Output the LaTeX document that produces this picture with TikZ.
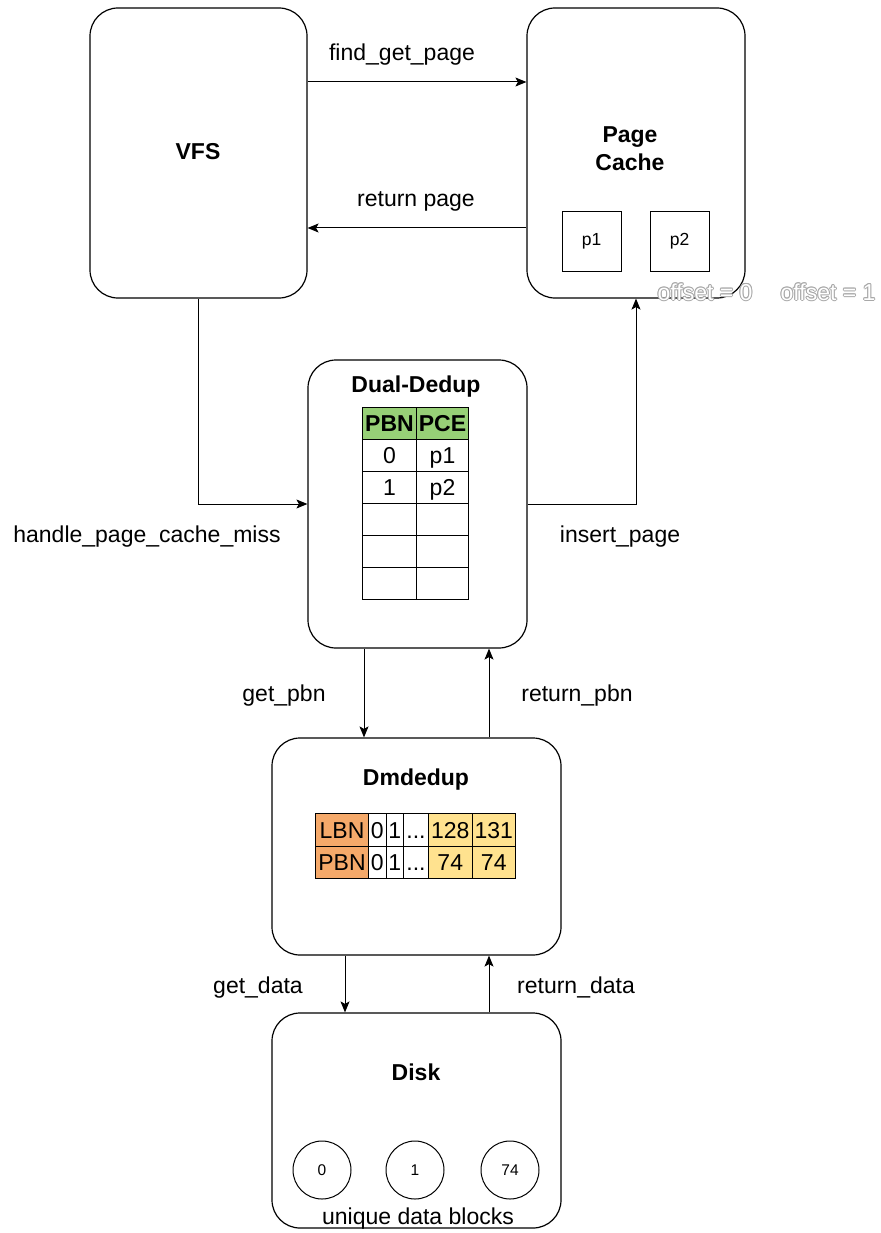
\documentclass[tikz,border=0pt]{standalone}
\usepackage{fontspec}
\setmainfont{Liberation Sans}
\usetikzlibrary{arrows.meta}
\definecolor{hdrgreen}{HTML}{97D077}
\definecolor{lborange}{HTML}{F5A96A}
\definecolor{cellyellow}{HTML}{FFE28F}
\definecolor{ghostline}{HTML}{A8A8A8}
\begin{document}
\begin{tikzpicture}[x=1pt,y=-1pt,
  box/.style={draw,line width=1.2pt,rounded corners=28pt,inner sep=0pt},
  lbl/.style={font=\fontsize{23}{27}\selectfont,inner sep=0pt,yshift=-2.5pt},
  ttl/.style={font=\fontsize{23}{28}\selectfont\bfseries,inner sep=0pt,align=center},
  arr/.style={line width=1pt,-{Stealth[length=11pt,width=9pt,inset=2.5pt]}},
  cell/.style={draw,line width=1pt,inner sep=0pt,anchor=north west,
    font=\fontsize{23}{27}\selectfont,text height=16.5pt,text depth=0pt},
  pbox/.style={draw,line width=1pt,minimum size=59pt,inner sep=0pt,font=\fontsize{17.5}{20}\selectfont},
  blk/.style={draw,circle,line width=1pt,minimum size=58pt,inner sep=0pt,font=\fontsize{15.5}{18}\selectfont},
  ghostsh/.style={font=\fontsize{23}{27}\selectfont,inner sep=0pt,text=ghostline},
  ghosttop/.style={font=\fontsize{23}{27}\selectfont,inner sep=0pt,text=white}
]
\useasboundingbox (0,0) rectangle (880,1233);

% main boxes
\node[box,minimum width=217pt,minimum height=290pt] (vfs) at (198.5,153) {};
\node[box,minimum width=218pt,minimum height=290pt] (pc) at (636,153) {};
\node[box,minimum width=219pt,minimum height=288pt] (dd) at (417.5,504) {};
\node[box,minimum width=289pt,minimum height=217pt] (dm) at (416.5,846.5) {};
\node[box,minimum width=289pt,minimum height=215pt] (disk) at (416.5,1120.5) {};

% titles
\node[ttl] (vfst) at (198,152) {VFS};
\node[ttl] (pct) at (630,149) {Page\\Cache};
\node[ttl] (ddt) at (416,387) {Dual-Dedup};
\node[ttl] (dmt) at (416,780) {Dmdedup};
\node[ttl] (diskt) at (416,1072) {Disk};

% page cache pages
\node[pbox] (p1) at (591.5,241.5) {p1};
\node[pbox] (p2) at (679.5,241.5) {p2};

% outlined (white) offset labels
\foreach \dx/\dy [count=\i] in {0.7/0.7,-0.7/0.7,0.7/-0.7,-0.7/-0.7,1/0,-1/0,0/1,0/-1}{
  \node[ghostsh] (offa\i) at (705+\dx,292+\dy) {offset = 0};
  \node[ghostsh] (offb\i) at (828+\dx,292+\dy) {offset = 1};
}
\node[ghosttop] (off0) at (705,292) {offset = 0};
\node[ghosttop] (off1) at (828,292) {offset = 1};

% Dual-Dedup table
\node[cell,fill=hdrgreen,minimum width=54pt,minimum height=32pt,font=\fontsize{23}{27}\selectfont\bfseries] (h1) at (362,407) {PBN};
\node[cell,fill=hdrgreen,minimum width=52pt,minimum height=32pt,font=\fontsize{23}{27}\selectfont\bfseries] (h2) at (416,407) {PCE};
\node[cell,minimum width=54pt,minimum height=32pt] (r1a) at (362,439) {0};
\node[cell,minimum width=52pt,minimum height=32pt] (r1b) at (416,439) {p1};
\node[cell,minimum width=54pt,minimum height=32pt] (r2a) at (362,471) {1};
\node[cell,minimum width=52pt,minimum height=32pt] (r2b) at (416,471) {p2};
\node[cell,minimum width=54pt,minimum height=32pt] (r3a) at (362,503) {};
\node[cell,minimum width=52pt,minimum height=32pt] (r3b) at (416,503) {};
\node[cell,minimum width=54pt,minimum height=32pt] (r4a) at (362,535) {};
\node[cell,minimum width=52pt,minimum height=32pt] (r4b) at (416,535) {};
\node[cell,minimum width=54pt,minimum height=32pt] (r5a) at (362,567) {};
\node[cell,minimum width=52pt,minimum height=32pt] (r5b) at (416,567) {};

% Dmdedup table
\node[cell,fill=lborange,minimum width=53pt,minimum height=32.5pt] (l0) at (315,813) {LBN};
\node[cell,minimum width=17.5pt,minimum height=32.5pt] (l1) at (368,813) {0};
\node[cell,minimum width=17.5pt,minimum height=32.5pt] (l2) at (385.5,813) {1};
\node[cell,minimum width=25pt,minimum height=32.5pt] (l3) at (403,813) {...};
\node[cell,fill=cellyellow,minimum width=43.5pt,minimum height=32.5pt] (l4) at (428,813) {128};
\node[cell,fill=cellyellow,minimum width=43.5pt,minimum height=32.5pt] (l5) at (471.5,813) {131};
\node[cell,fill=lborange,minimum width=53pt,minimum height=32.5pt] (q0) at (315,845.5) {PBN};
\node[cell,minimum width=17.5pt,minimum height=32.5pt] (q1) at (368,845.5) {0};
\node[cell,minimum width=17.5pt,minimum height=32.5pt] (q2) at (385.5,845.5) {1};
\node[cell,minimum width=25pt,minimum height=32.5pt] (q3) at (403,845.5) {...};
\node[cell,fill=cellyellow,minimum width=43.5pt,minimum height=32.5pt] (q4) at (428,845.5) {74};
\node[cell,fill=cellyellow,minimum width=43.5pt,minimum height=32.5pt] (q5) at (471.5,845.5) {74};

% disk blocks
\node[blk] (b0) at (322,1170) {0};
\node[blk] (b1) at (415,1170) {1};
\node[blk] (b74) at (510,1170) {74};
\node[lbl] (udb) at (418,1216) {unique data blocks};

% helper coordinates
\coordinate (yf) at (0,82);
\coordinate (yr) at (0,228);
\coordinate (xg) at (364,0);
\coordinate (xr) at (489,0);
\coordinate (xd) at (345,0);

% connectors
\draw[arr] (vfs.east |- yf) -- (pc.west |- yf);
\draw[arr] (pc.west |- yr) -- (vfs.east |- yr);
\draw[arr] (vfs.south) |- (dd.west);
\draw[arr] (dd.east) -| (pc.south);
\draw[arr] (dd.south -| xg) -- (dm.north -| xg);
\draw[arr] (dm.north -| xr) -- (dd.south -| xr);
\draw[arr] (dm.south -| xd) -- (disk.north -| xd);
\draw[arr] (disk.north -| xr) -- (dm.south -| xr);

% connector labels
\node[lbl] (lfg) at (402,52) {find\_get\_page};
\node[lbl] (lrp) at (416,199) {return page};
\node[lbl] (lhm) at (147,534) {handle\_page\_cache\_miss};
\node[lbl] (lip) at (620,534) {insert\_page};
\node[lbl] (lgp) at (284,693) {get\_pbn};
\node[lbl] (lrpb) at (577,693) {return\_pbn};
\node[lbl] (lgd) at (258,985) {get\_data};
\node[lbl] (lrd) at (576,985) {return\_data};
\end{tikzpicture}
\end{document}
